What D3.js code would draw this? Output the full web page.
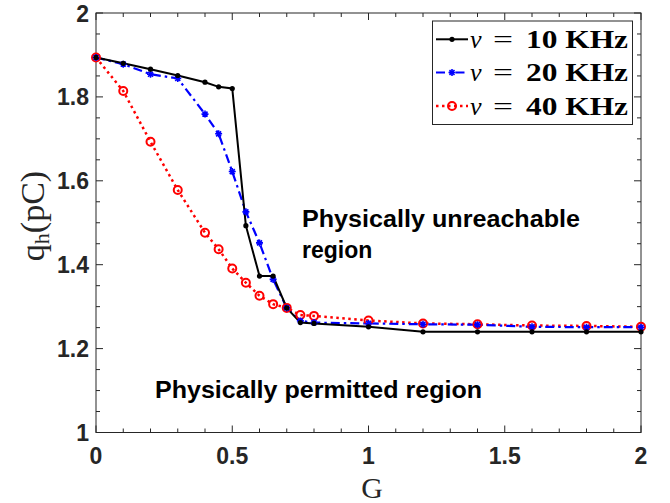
<!DOCTYPE html>
<html><head><meta charset="utf-8">
<script src="https://cdn.jsdelivr.net/npm/d3@7"></script>
<style>body{margin:0;background:#fff}svg{display:block}</style>
</head><body>
<svg id="c" width="670" height="503"></svg>
<script>
const G = [0,0.1,0.2,0.3,0.4,0.45,0.5,0.55,0.6,0.65,0.7,0.75,0.8,1.0,1.2,1.4,1.6,1.8,2.0];
const q10 = [1.894,1.880,1.866,1.851,1.835,1.824,1.820,1.493,1.373,1.373,1.297,1.262,1.260,1.252,1.240,1.240,1.240,1.240,1.240];
const q20 = [1.894,1.878,1.854,1.844,1.759,1.712,1.622,1.526,1.452,1.365,1.297,1.266,1.262,1.260,1.258,1.257,1.252,1.251,1.251];
const q40 = [1.894,1.814,1.693,1.578,1.476,1.437,1.391,1.357,1.326,1.306,1.297,1.280,1.278,1.267,1.260,1.258,1.255,1.254,1.252];
const seriesNames = ["10","20","40"];
const xTicks = [0,0.5,1,1.5,2];
const yTicks = [1,1.2,1.4,1.6,1.8,2];

const svg = d3.select("#c");
const L=96, R=641, T=13, B=432.5;
const x = d3.scaleLinear().domain([0,2]).range([L,R]);
const y = d3.scaleLinear().domain([1,2]).range([B,T]);
const axCol="#262626";

// ticks (inside, all four sides)
const g = svg.append("g");
const xMinor = d3.range(0,2.0001,0.1), yMinor = d3.range(1,2.0001,0.05);
xMinor.forEach(v=>{
  const major = xTicks.some(t=>Math.abs(t-v)<1e-6), len = major?7:4;
  g.append("line").attr("x1",x(v)).attr("x2",x(v)).attr("y1",B).attr("y2",B-len).attr("stroke",axCol);
  g.append("line").attr("x1",x(v)).attr("x2",x(v)).attr("y1",T).attr("y2",T+len).attr("stroke",axCol);
});
yMinor.forEach(v=>{
  const major = yTicks.some(t=>Math.abs(t-v)<1e-6), len = major?7:4;
  g.append("line").attr("y1",y(v)).attr("y2",y(v)).attr("x1",L).attr("x2",L+len).attr("stroke",axCol);
  g.append("line").attr("y1",y(v)).attr("y2",y(v)).attr("x1",R).attr("x2",R-len).attr("stroke",axCol);
});
g.append("rect").attr("x",L).attr("y",T).attr("width",R-L).attr("height",B-T).attr("fill","none").attr("stroke",axCol);

const tickFont = "'Liberation Sans', Arial, sans-serif";
xTicks.forEach(v=>{
  svg.append("text").attr("x",x(v)).attr("y",B+31).attr("text-anchor","middle")
    .attr("font-family",tickFont).attr("font-weight","bold").attr("font-size",23).attr("fill","#262626").text(d3.format("")(v));
});
yTicks.forEach(v=>{
  svg.append("text").attr("x",L-7).attr("y",y(v)+8.5).attr("text-anchor","end")
    .attr("font-family",tickFont).attr("font-weight","bold").attr("font-size",23).attr("fill","#262626").text(d3.format("")(v));
});

// axis labels
svg.append("text").attr("x",372).attr("y",498).attr("text-anchor","middle")
  .attr("font-family","'Liberation Serif', serif").attr("font-size",30).attr("fill","#262626").text("G");
const yl = svg.append("text").attr("transform",`translate(44,216) rotate(-90)`).attr("text-anchor","middle")
  .attr("font-family","'Liberation Serif', serif").attr("font-size",34).attr("fill","#262626");
yl.append("tspan").text("q");
yl.append("tspan").attr("font-size",22).attr("dy",5).text("h");
yl.append("tspan").attr("dy",-5).text("(pC)");

// lines
const line = d3.line().x(d=>x(d[0])).y(d=>y(d[1]));
const d10 = G.map((g,i)=>[g,q10[i]]), d20 = G.map((g,i)=>[g,q20[i]]), d40 = G.map((g,i)=>[g,q40[i]]);

svg.append("path").datum(d40).attr("d",line).attr("fill","none").attr("stroke","#ff0000").attr("stroke-width",2.5).attr("stroke-dasharray","2.5,3.5");
svg.append("path").datum(d20).attr("d",line).attr("fill","none").attr("stroke","#0000ff").attr("stroke-width",2.2).attr("stroke-dasharray","9,4,2.5,4");
svg.append("path").datum(d10).attr("d",line).attr("fill","none").attr("stroke","#000").attr("stroke-width",2);

function plus(sel, cx, cy, col){
  sel.append("path").attr("d",`M${cx-3.5},${cy}L${cx+3.5},${cy}M${cx},${cy-3.5}L${cx},${cy+3.5}M${cx-2.5},${cy-2.5}L${cx+2.5},${cy+2.5}M${cx-2.5},${cy+2.5}L${cx+2.5},${cy-2.5}`)
    .attr("stroke",col).attr("stroke-width",1.6);
}
svg.append("g").selectAll("circle").data(d40).join("circle").attr("cx",d=>x(d[0])).attr("cy",d=>y(d[1])).attr("r",4)
  .attr("fill","none").attr("stroke","#ff0000").attr("stroke-width",2);
const g20 = svg.append("g");
d20.forEach(d=>plus(g20,x(d[0]),y(d[1]),"#0000ff"));
svg.append("g").selectAll("circle").data(d10).join("circle").attr("cx",d=>x(d[0])).attr("cy",d=>y(d[1])).attr("r",2.6).attr("fill","#000");

// annotations
const annFont = "'Liberation Sans', Arial, sans-serif";
const ann = [
  {t:"Physically unreachable", x:302, y:227, w:278},
  {t:"region", x:302, y:258, w:null},
  {t:"Physically permitted region", x:155, y:398, w:327}
];
ann.forEach(a=>{
  const t = svg.append("text").attr("x",a.x).attr("y",a.y).attr("font-family",annFont).attr("font-weight","bold").attr("font-size",23).attr("fill","#000").text(a.t);
  if(a.w) t.attr("textLength",a.w).attr("lengthAdjust","spacingAndGlyphs");
});

// legend
const lg = svg.append("g");
lg.append("rect").attr("x",432.5).attr("y",21).attr("width",200).attr("height",103.5).attr("fill","#fff").attr("stroke","#262626");
const legY = [39.3,72.5,106];
const legStyles = [
  {col:"#000", dash:null, w:2},
  {col:"#0000ff", dash:"9,4,2.5,4", w:2.2},
  {col:"#ff0000", dash:"2.5,3.5", w:2.5}
];
seriesNames.forEach((n,i)=>{
  const yy = legY[i], st = legStyles[i];
  lg.append("line").attr("x1",436).attr("x2",468).attr("y1",yy).attr("y2",yy).attr("stroke",st.col).attr("stroke-width",st.w).attr("stroke-dasharray",st.dash);
  if(i===0) lg.append("circle").attr("cx",452).attr("cy",yy).attr("r",2.6).attr("fill","#000");
  if(i===1) plus(lg,452,yy,"#0000ff");
  if(i===2) lg.append("circle").attr("cx",452).attr("cy",yy).attr("r",4).attr("fill","none").attr("stroke","#ff0000").attr("stroke-width",2);
  const base = yy+8.5;
  lg.append("text").attr("x",470).attr("y",base).attr("font-family","'Liberation Serif', serif").attr("font-style","italic").attr("font-size",26).attr("fill","#000").text("ν");
  lg.append("text").attr("x",503).attr("y",base).attr("text-anchor","middle").attr("font-family","'Liberation Serif', serif").attr("font-size",26).attr("fill","#000")
    .attr("textLength",20).attr("lengthAdjust","spacingAndGlyphs").text("=");
  lg.append("text").attr("x",526).attr("y",base).attr("font-family","'Liberation Serif', serif").attr("font-weight","bold").attr("font-size",26).attr("fill","#000")
    .attr("textLength",102).attr("lengthAdjust","spacingAndGlyphs").text(n+" KHz");
});
</script>
</body></html>
